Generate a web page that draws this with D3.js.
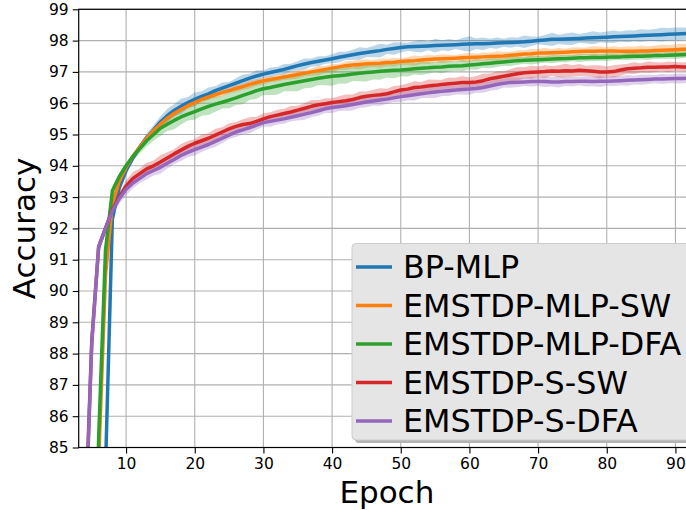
<!DOCTYPE html>
<html>
<head>
<meta charset="utf-8">
<script src="https://cdn.jsdelivr.net/npm/d3@7"></script>
<style>
  body { margin: 0; background: #fff; }
  svg { display: block; font-family: "DejaVu Sans", sans-serif; }
</style>
</head>
<body>
<svg id="chart" width="686" height="510"></svg>
<script>
// epochs 4..92
var epochs = d3.range(4, 93);

var names = ["BP-MLP", "EMSTDP-MLP-SW", "EMSTDP-MLP-DFA", "EMSTDP-S-SW", "EMSTDP-S-DFA"];
var colors = ["#1f77b4", "#ff7f0e", "#2ca02c", "#d62728", "#9467bd"];

var bpMlp = [72, 76, 80, 84.3, 92.3, 93.3, 93.85, 94.25, 94.6, 94.9, 95.15, 95.4, 95.6, 95.77, 95.9, 96.02,
  96.12, 96.22, 96.3, 96.4, 96.48, 96.56, 96.64, 96.72, 96.8, 96.87, 96.93, 96.98, 97.03, 97.08, 97.14, 97.2,
  97.25, 97.3, 97.34, 97.38, 97.42, 97.47, 97.51, 97.55, 97.59, 97.62, 97.65, 97.68, 97.72, 97.75, 97.78, 97.8,
  97.81, 97.82, 97.83, 97.84, 97.85, 97.86, 97.87, 97.88, 97.89, 97.9, 97.9, 97.91, 97.92, 97.93, 97.94, 97.95,
  97.96, 97.98, 98.0, 98.02, 98.04, 98.04, 98.05, 98.06, 98.07, 98.08, 98.09, 98.1, 98.11, 98.12, 98.13, 98.14,
  98.15, 98.16, 98.17, 98.18, 98.19, 98.2, 98.21, 98.22, 98.23];
var bpMlpSd = [0.3, 0.3, 0.3, 0.3, 0.25, 0.2, 0.15, 0.12, 0.1, 0.12, 0.15, 0.18, 0.22, 0.2, 0.24, 0.18,
  0.22, 0.16, 0.2, 0.14, 0.18, 0.12, 0.16, 0.2, 0.14, 0.18, 0.12, 0.16, 0.13, 0.17, 0.12, 0.15, 0.18, 0.13,
  0.16, 0.12, 0.14, 0.17, 0.13, 0.16, 0.2, 0.14, 0.18, 0.22, 0.15, 0.2, 0.16, 0.13, 0.17, 0.2, 0.14, 0.22,
  0.16, 0.19, 0.14, 0.2, 0.25, 0.17, 0.2, 0.15, 0.18, 0.13, 0.17, 0.14, 0.2, 0.15, 0.12, 0.16, 0.21, 0.15,
  0.18, 0.2, 0.14, 0.17, 0.21, 0.16, 0.18, 0.2, 0.16, 0.19, 0.17, 0.2, 0.18, 0.19, 0.22, 0.2, 0.21, 0.2, 0.19];

var mlpSw = [70, 75, 84.5, 90.5, 92.8, 93.5, 93.95, 94.3, 94.6, 94.88, 95.12, 95.33, 95.52, 95.67, 95.8, 95.92,
  96.02, 96.12, 96.2, 96.27, 96.34, 96.4, 96.47, 96.53, 96.6, 96.66, 96.72, 96.76, 96.8, 96.84, 96.88, 96.92,
  96.96, 97.0, 97.04, 97.08, 97.12, 97.16, 97.2, 97.22, 97.24, 97.26, 97.27, 97.28, 97.3, 97.31, 97.33, 97.35,
  97.36, 97.38, 97.4, 97.41, 97.42, 97.43, 97.44, 97.45, 97.46, 97.47, 97.48, 97.49, 97.5, 97.51, 97.53, 97.55,
  97.57, 97.58, 97.6, 97.6, 97.61, 97.62, 97.63, 97.64, 97.65, 97.66, 97.66, 97.67, 97.67, 97.67, 97.66, 97.66,
  97.66, 97.67, 97.67, 97.68, 97.69, 97.7, 97.71, 97.72, 97.73];
var mlpSwSd = [0.2, 0.2, 0.2, 0.2, 0.15, 0.12, 0.1, 0.1, 0.08, 0.1, 0.09, 0.08, 0.1, 0.09, 0.08, 0.1,
  0.09, 0.11, 0.08, 0.1, 0.12, 0.09, 0.11, 0.1, 0.13, 0.1, 0.12, 0.09, 0.11, 0.1, 0.12, 0.14, 0.1, 0.12,
  0.15, 0.11, 0.13, 0.1, 0.14, 0.12, 0.16, 0.13, 0.11, 0.15, 0.12, 0.14, 0.1, 0.13, 0.16, 0.12, 0.15, 0.11,
  0.14, 0.12, 0.1, 0.13, 0.15, 0.11, 0.14, 0.12, 0.16, 0.13, 0.11, 0.14, 0.12, 0.15, 0.13, 0.16, 0.12, 0.14,
  0.11, 0.15, 0.13, 0.12, 0.16, 0.14, 0.12, 0.15, 0.13, 0.16, 0.14, 0.17, 0.15, 0.16, 0.18, 0.16, 0.17, 0.18, 0.17];

var mlpDfa = [68, 74, 85.3, 91.3, 93.2, 93.65, 94.0, 94.3, 94.55, 94.8, 95.0, 95.2, 95.33, 95.45, 95.56, 95.65,
  95.73, 95.82, 95.9, 95.97, 96.03, 96.1, 96.17, 96.25, 96.32, 96.4, 96.46, 96.5, 96.55, 96.6, 96.64, 96.68,
  96.72, 96.76, 96.8, 96.83, 96.86, 96.88, 96.9, 96.93, 96.96, 96.98, 97.0, 97.02, 97.04, 97.05, 97.06, 97.08,
  97.1, 97.12, 97.13, 97.15, 97.16, 97.18, 97.19, 97.2, 97.22, 97.24, 97.26, 97.28, 97.3, 97.32, 97.34, 97.36,
  97.37, 97.38, 97.39, 97.4, 97.41, 97.42, 97.43, 97.44, 97.45, 97.45, 97.46, 97.46, 97.47, 97.48, 97.48, 97.49,
  97.5, 97.5, 97.51, 97.52, 97.52, 97.53, 97.54, 97.55, 97.56];
var mlpDfaSd = [0.25, 0.25, 0.25, 0.2, 0.15, 0.12, 0.1, 0.12, 0.15, 0.18, 0.2, 0.25, 0.22, 0.28, 0.24, 0.2,
  0.26, 0.22, 0.28, 0.24, 0.2, 0.26, 0.23, 0.28, 0.22, 0.26, 0.2, 0.24, 0.28, 0.22, 0.26, 0.3, 0.24, 0.27,
  0.22, 0.26, 0.3, 0.25, 0.28, 0.22, 0.26, 0.29, 0.24, 0.27, 0.22, 0.25, 0.2, 0.23, 0.18, 0.22, 0.19, 0.16,
  0.2, 0.17, 0.15, 0.18, 0.14, 0.17, 0.13, 0.16, 0.14, 0.12, 0.15, 0.13, 0.11, 0.14, 0.12, 0.1, 0.13, 0.11,
  0.12, 0.1, 0.13, 0.11, 0.12, 0.1, 0.12, 0.11, 0.1, 0.12, 0.11, 0.1, 0.12, 0.11, 0.1, 0.11, 0.12, 0.11, 0.1];

var sSw = [82.2, 88.4, 91.4, 92.0, 92.6, 93.0, 93.35, 93.6, 93.75, 93.9, 94.0, 94.12, 94.25, 94.38, 94.5, 94.62,
  94.72, 94.8, 94.88, 94.98, 95.08, 95.18, 95.26, 95.32, 95.35, 95.42, 95.5, 95.57, 95.62, 95.67, 95.72, 95.78,
  95.84, 95.9, 95.95, 95.98, 96.02, 96.05, 96.08, 96.12, 96.18, 96.22, 96.25, 96.27, 96.3, 96.36, 96.42, 96.45,
  96.5, 96.52, 96.55, 96.57, 96.6, 96.62, 96.64, 96.66, 96.66, 96.68, 96.72, 96.78, 96.82, 96.86, 96.9, 96.94,
  96.97, 96.99, 97.0, 97.01, 97.03, 97.02, 97.04, 97.03, 97.05, 97.04, 97.02, 97.0, 97.0, 97.01, 97.06, 97.1,
  97.12, 97.13, 97.15, 97.15, 97.16, 97.16, 97.17, 97.16, 97.15];
var sSwSd = [0.2, 0.2, 0.18, 0.15, 0.12, 0.14, 0.18, 0.2, 0.16, 0.2, 0.17, 0.22, 0.18, 0.15, 0.2, 0.17,
  0.14, 0.19, 0.16, 0.2, 0.15, 0.18, 0.14, 0.17, 0.2, 0.15, 0.18, 0.14, 0.17, 0.15, 0.19, 0.14, 0.17, 0.2,
  0.15, 0.18, 0.14, 0.17, 0.2, 0.16, 0.19, 0.15, 0.18, 0.21, 0.16, 0.19, 0.15, 0.18, 0.2, 0.16, 0.21, 0.18,
  0.15, 0.2, 0.17, 0.21, 0.16, 0.19, 0.22, 0.17, 0.2, 0.16, 0.19, 0.22, 0.18, 0.21, 0.17, 0.2, 0.16, 0.19,
  0.22, 0.18, 0.2, 0.16, 0.19, 0.21, 0.17, 0.2, 0.18, 0.16, 0.19, 0.15, 0.18, 0.16, 0.14, 0.17, 0.15, 0.14, 0.16];

var sDfa = [82.0, 88.3, 91.4, 92.0, 92.55, 92.95, 93.25, 93.45, 93.6, 93.75, 93.85, 93.95, 94.08, 94.2, 94.33, 94.43,
  94.52, 94.6, 94.68, 94.78, 94.88, 94.98, 95.08, 95.15, 95.22, 95.3, 95.38, 95.42, 95.46, 95.5, 95.55, 95.6,
  95.65, 95.7, 95.76, 95.82, 95.86, 95.89, 95.92, 95.96, 96.0, 96.04, 96.07, 96.1, 96.13, 96.17, 96.21, 96.24,
  96.27, 96.3, 96.33, 96.36, 96.38, 96.4, 96.42, 96.44, 96.45, 96.47, 96.5, 96.55, 96.6, 96.64, 96.66, 96.67,
  96.68, 96.69, 96.69, 96.69, 96.68, 96.68, 96.69, 96.69, 96.7, 96.7, 96.69, 96.7, 96.7, 96.71, 96.72, 96.73,
  96.74, 96.75, 96.76, 96.77, 96.77, 96.78, 96.79, 96.79, 96.8];
var sDfaSd = [0.2, 0.2, 0.18, 0.15, 0.12, 0.16, 0.2, 0.17, 0.15, 0.19, 0.16, 0.2, 0.17, 0.14, 0.18, 0.15,
  0.19, 0.16, 0.14, 0.18, 0.15, 0.12, 0.16, 0.14, 0.18, 0.15, 0.13, 0.17, 0.14, 0.16, 0.13, 0.15, 0.18, 0.14,
  0.16, 0.13, 0.17, 0.14, 0.16, 0.19, 0.15, 0.17, 0.14, 0.18, 0.15, 0.13, 0.17, 0.15, 0.18, 0.14, 0.16, 0.19,
  0.15, 0.17, 0.14, 0.16, 0.18, 0.14, 0.17, 0.15, 0.18, 0.14, 0.17, 0.15, 0.13, 0.16, 0.14, 0.17, 0.15, 0.18,
  0.14, 0.16, 0.13, 0.17, 0.15, 0.18, 0.14, 0.16, 0.15, 0.17, 0.14, 0.16, 0.15, 0.13, 0.16, 0.14, 0.15, 0.16, 0.14];

var yTicks = d3.range(85, 100);
var xTicks = [10, 20, 30, 40, 50, 60, 70, 80, 90];

var series = [
  { name: names[0], color: colors[0], mean: bpMlp, sd: bpMlpSd },
  { name: names[1], color: colors[1], mean: mlpSw, sd: mlpSwSd },
  { name: names[2], color: colors[2], mean: mlpDfa, sd: mlpDfaSd },
  { name: names[3], color: colors[3], mean: sSw, sd: sSwSd },
  { name: names[4], color: colors[4], mean: sDfa, sd: sDfaSd }
];

var svg = d3.select("#chart");
var mLeft = 78.7, mTop = 9.3, mRight = 695, mBottom = 447.5;

var x = d3.scaleLinear().domain([3.1, 92.85]).range([mLeft, mRight]);
var y = d3.scaleLinear().domain([85, 99]).range([mBottom, mTop]);

svg.append("defs").append("clipPath").attr("id", "plotclip")
  .append("rect")
  .attr("x", mLeft).attr("y", mTop)
  .attr("width", mRight - mLeft).attr("height", mBottom - mTop);

// grid
var grid = svg.append("g");
grid.selectAll(".gx").data(xTicks).enter().append("line")
  .attr("x1", d => x(d)).attr("x2", d => x(d))
  .attr("y1", mTop).attr("y2", mBottom)
  .attr("stroke", "#b0b0b0").attr("stroke-width", 1.1);
grid.selectAll(".gy").data(yTicks).enter().append("line")
  .attr("x1", mLeft).attr("x2", mRight)
  .attr("y1", d => y(d)).attr("y2", d => y(d))
  .attr("stroke", "#b0b0b0").attr("stroke-width", 1.1);

// bands + lines
var plot = svg.append("g").attr("clip-path", "url(#plotclip)");

var area = d3.area()
  .x(d => x(d.e))
  .y0(d => y(d.m - d.s))
  .y1(d => y(d.m + d.s));
var line = d3.line()
  .x(d => x(d.e))
  .y(d => y(d.m));

series.forEach(function(s){
  var pts = epochs.map(function(e, i){ return { e: e, m: s.mean[i], s: s.sd[i] }; });
  plot.append("path")
    .attr("d", area(pts))
    .attr("fill", s.color)
    .attr("fill-opacity", 0.3);
  s.pts = pts;
});
series.forEach(function(s){
  plot.append("path")
    .attr("d", line(s.pts))
    .attr("fill", "none")
    .attr("stroke", s.color)
    .attr("stroke-width", 3.5)
    .attr("stroke-linejoin", "round");
});

// axes
var axisX = d3.axisBottom(x).tickValues(xTicks).tickSize(6).tickPadding(4);
var axisY = d3.axisLeft(y).tickValues(yTicks).tickSize(6).tickPadding(4);

var gx = svg.append("g")
  .attr("transform", "translate(0," + mBottom + ")")
  .call(axisX);
var gy = svg.append("g")
  .attr("transform", "translate(" + mLeft + ",0)")
  .call(axisY);
[gx, gy].forEach(function(g){
  g.select(".domain").remove();
  g.selectAll("text").attr("font-size", 15.5).attr("font-family", "DejaVu Sans").attr("fill", "#000");
  g.selectAll("line").attr("stroke", "#000").attr("stroke-width", 1.1);
});

// spines
svg.append("rect")
  .attr("x", mLeft).attr("y", mTop)
  .attr("width", mRight - mLeft).attr("height", mBottom - mTop)
  .attr("fill", "none").attr("stroke", "#000").attr("stroke-width", 1.2);

// axis titles
svg.append("text")
  .attr("x", (mLeft + mRight) / 2).attr("y", 503)
  .attr("text-anchor", "middle")
  .attr("font-size", 31)
  .text("Epoch");
svg.append("text")
  .attr("transform", "translate(35," + ((mTop + mBottom) / 2) + ") rotate(-90)")
  .attr("text-anchor", "middle")
  .attr("font-size", 31)
  .text("Accuracy");

// legend
var lg = svg.append("g").attr("transform", "translate(352,243.5)");
lg.append("rect")
  .attr("x", 3).attr("y", 3)
  .attr("width", 350).attr("height", 196.5)
  .attr("rx", 4)
  .attr("fill", "#b3b3b3");
lg.append("rect")
  .attr("width", 350).attr("height", 196.5)
  .attr("rx", 4)
  .attr("fill", "#e5e5e5")
  .attr("stroke", "#cccccc").attr("stroke-width", 1);

var items = lg.selectAll(".item").data(series).enter().append("g")
  .attr("transform", (d, i) => "translate(0," + (23.5 + i * 38.5) + ")");
items.append("line")
  .attr("x1", 4).attr("x2", 40)
  .attr("stroke", d => d.color)
  .attr("stroke-width", 3.5);
items.append("text")
  .attr("x", 51).attr("y", 11)
  .attr("font-size", 31.8)
  .text(d => d.name);
</script>
</body>
</html>
